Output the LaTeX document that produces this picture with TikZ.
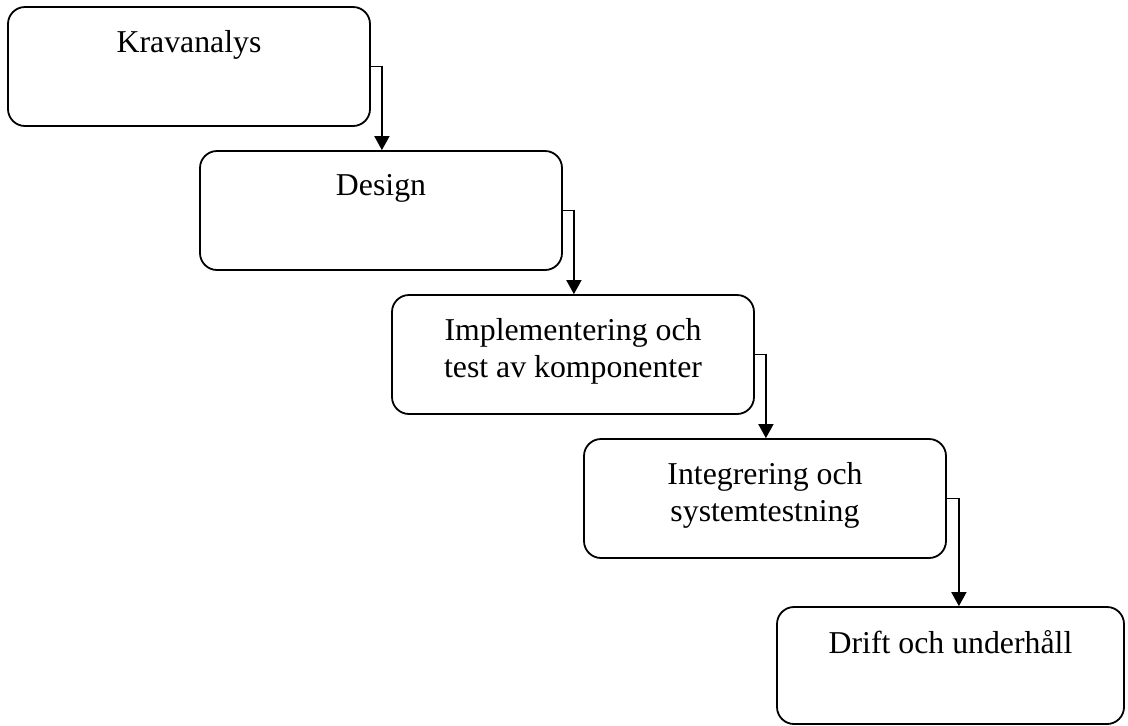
\documentclass[tikz,border=0pt]{standalone}
\usepackage{fontspec}
\setmainfont{Liberation Serif}
\usepackage{tikz}
\usetikzlibrary{shapes, arrows.meta, positioning, calc}
\tikzstyle{phase} = [rectangle, rounded corners=8.5pt, minimum width=181pt, minimum height=59.5pt, draw=black, line width=0.9pt, inner sep=0pt]
\tikzstyle{lastphase} = [rectangle, rounded corners=8.5pt, minimum width=173.5pt, minimum height=58.5pt, draw=black, line width=0.9pt, inner sep=0pt]
\tikzstyle{phasetext} = [anchor=north, yshift=-12pt, inner sep=0pt, align=center, font=\fontsize{15.9pt}{18.5pt}\selectfont]

\begin{document}
\begin{tikzpicture}[node distance=72pt]
\useasboundingbox (0,0) rectangle (564pt,-362.5pt);
\node (krav) [phase] at (94.5pt,-33.25pt) {};
\node (design) [phase, below of=krav, xshift=96pt] {};
\node (impl) [phase, below of=design, xshift=96pt] {};
\node (integ) [phase, below of=impl, xshift=96pt] {};
\node (drift) [lastphase, below of=integ, xshift=92.75pt, yshift=-11.5pt] {};
\node (kravtext) [phasetext] at (krav.north) {Kravanalys};
\node (designtext) [phasetext] at (design.north) {Design};
\node (impltext) [phasetext] at (impl.north) {Implementering och\\test av komponenter};
\node (integtext) [phasetext] at (integ.north) {Integrering och\\systemtestning};
\node (drifttext) [phasetext] at (drift.north) {Drift och underhåll};
\draw[line width=0.85pt, -{Triangle[length=7pt, width=7.5pt]}] (krav.east) -- ++(5.5pt,0) coordinate (k1) -- (k1 |- design.north);
\draw[line width=0.85pt, -{Triangle[length=7pt, width=7.5pt]}] (design.east) -- ++(5.5pt,0) coordinate (k2) -- (k2 |- impl.north);
\draw[line width=0.85pt, -{Triangle[length=7pt, width=7.5pt]}] (impl.east) -- ++(5.5pt,0) coordinate (k3) -- (k3 |- integ.north);
\draw[line width=0.85pt, -{Triangle[length=7pt, width=7.5pt]}] (integ.east) -- ++(6pt,0) coordinate (k4) -- (k4 |- drift.north);
\end{tikzpicture}
\end{document}
